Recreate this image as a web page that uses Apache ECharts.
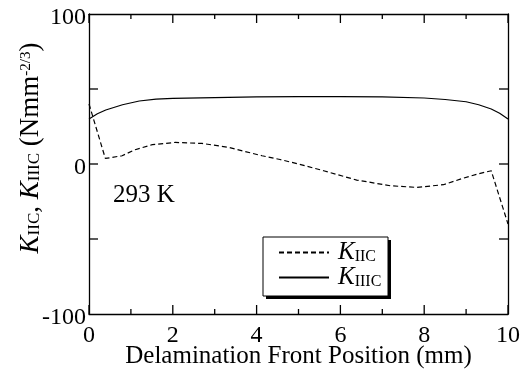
<!DOCTYPE html>
<html>
<head>
<meta charset="utf-8">
<script src="https://cdn.jsdelivr.net/npm/echarts@6/dist/echarts.min.js"></script>
<style>html,body{margin:0;padding:0;background:#fff;}#c{width:522px;height:373px;}</style>
</head>
<body>
<div id="c"></div>
<script>
// Data
var kiiicX = [0, 0.2, 0.4, 0.8, 1.2, 1.6, 2, 3, 4, 5, 6, 7, 8, 8.5, 9, 9.3, 9.6, 9.8, 10];
var kiiicY = [30, 33.5, 36, 39.5, 42, 43.3, 43.8, 44.3, 44.7, 44.9, 44.9, 44.7, 44, 43, 41.5, 39.5, 36.7, 33.8, 30];
var kiicX = [0, 0.39, 0.79, 1.1, 1.51, 2.06, 2.7, 3.33, 4.13, 4.56, 5.0, 5.6, 6.39, 7.19, 7.82, 8.46, 8.94, 9.3, 9.6, 10];
var kiicY = [40, 3.7, 5.5, 9.5, 12.9, 14.4, 13.7, 11.1, 5.5, 3, 0, -4.5, -10.7, -14.5, -15.6, -13.8, -9.4, -6.5, -4.5, -40];
var xTicks = [0, 2, 4, 6, 8, 10];
var xMinorTicks = [1, 3, 5, 7, 9];
var yTicks = [-50, 0, 50];
var yTickLabels = [-100, 0, 100];
var seriesNames = ['KIIC', 'KIIIC'];
var X_MIN = 0, X_MAX = 10, Y_MIN = -100, Y_MAX = 100;

function pairs(xs, ys) { return xs.map(function (x, i) { return [x, ys[i]]; }); }

// tick mark data: [tick value, 0, kind]; kind 0 = major x, 1 = minor x, 2 = y
var tickData = []
  .concat(xTicks.map(function (v) { return [v, 0, 0]; }))
  .concat(xMinorTicks.map(function (v) { return [v, 0, 1]; }))
  .concat(yTicks.map(function (v) { return [5, v, 2]; }));

var FONT = '"Liberation Serif", "DejaVu Serif", serif';
var chart = echarts.init(document.getElementById('c'));
var axisLineStyle = { color: '#000', width: 1.3 };
function rich(size) {
  return {
    k: { fontFamily: FONT, fontStyle: 'italic', fontSize: size, color: '#000', lineHeight: 25 },
    s: { fontFamily: FONT, fontSize: Math.round(size * 0.64), color: '#000', lineHeight: 11, verticalAlign: 'bottom' },
    n: { fontFamily: FONT, fontSize: size, color: '#000', lineHeight: 25 },
    p: { fontFamily: FONT, fontSize: Math.round(size * 0.56), color: '#000', lineHeight: 13, verticalAlign: 'top' }
  };
}

function renderTick(params, api) {
  var xv = api.value(0), yv = api.value(1), kind = api.value(2);
  var st = { stroke: '#000', lineWidth: 1.3, fill: null };
  if (kind === 2) {
    var l = api.coord([X_MIN, yv]), r = api.coord([X_MAX, yv]);
    return { type: 'group', children: [
      { type: 'line', shape: { x1: l[0], y1: l[1], x2: l[0] + 9, y2: l[1] }, style: st },
      { type: 'line', shape: { x1: r[0], y1: r[1], x2: r[0] - 9, y2: r[1] }, style: st }
    ] };
  }
  var len = kind === 0 ? 9 : 5;
  var b = api.coord([xv, Y_MIN]), t = api.coord([xv, Y_MAX]);
  return { type: 'group', children: [
    { type: 'line', shape: { x1: b[0], y1: b[1], x2: b[0], y2: b[1] - len }, style: st },
    { type: 'line', shape: { x1: t[0], y1: t[1], x2: t[0], y2: t[1] + len }, style: st }
  ] };
}

chart.setOption({
  animation: false,
  backgroundColor: '#fff',
  grid: { left: 89, right: 14, top: 14, bottom: 59, containLabel: false, outerBoundsMode: 'none' },
  xAxis: [{
    type: 'value', min: X_MIN, max: X_MAX, interval: 2,
    axisLine: { show: true, onZero: false, lineStyle: axisLineStyle },
    axisTick: { show: false },
    splitLine: { show: false },
    axisLabel: {
      color: '#000', fontFamily: FONT, fontSize: 24, margin: 10,
      formatter: function (v) { return xTicks.indexOf(v) >= 0 ? String(v) : ''; }
    },
    name: 'Delamination Front Position (mm)', nameLocation: 'middle', nameGap: 30, nameMoveOverlap: false,
    nameTextStyle: { color: '#000', fontFamily: FONT, fontSize: 25 }
  }, {
    type: 'value', min: X_MIN, max: X_MAX, interval: 2, position: 'top',
    axisLine: { show: true, onZero: false, lineStyle: axisLineStyle },
    axisTick: { show: false },
    splitLine: { show: false }, axisLabel: { show: false }
  }],
  yAxis: [{
    type: 'value', min: Y_MIN, max: Y_MAX, interval: 50,
    axisLine: { show: true, onZero: false, lineStyle: axisLineStyle },
    axisTick: { show: false },
    splitLine: { show: false },
    axisLabel: {
      color: '#000', fontFamily: FONT, fontSize: 24, margin: 3, verticalAlign: 'top', lineHeight: 8,
      formatter: function (v) { return yTickLabels.indexOf(v) >= 0 ? String(v) : ''; }
    }
  }, {
    type: 'value', min: Y_MIN, max: Y_MAX, interval: 50, position: 'right',
    axisLine: { show: true, onZero: false, lineStyle: axisLineStyle },
    axisTick: { show: false },
    splitLine: { show: false }, axisLabel: { show: false }
  }],
  legend: {
    orient: 'vertical', left: 273, top: 235, z: 10,
    itemWidth: 50, itemHeight: 14, itemGap: 0,
    itemStyle: { opacity: 0 },
    data: seriesNames,
    formatter: function (name) {
      return name === 'KIIC' ? '{k|K}{s|IIC}' : '{k|K}{s|IIIC}';
    },
    textStyle: { rich: rich(25), padding: [0, 0, 0, 4] }
  },
  graphic: [
    { type: 'rect', z: 1, shape: { x: 266, y: 240, width: 125, height: 59 }, style: { fill: '#000' } },
    { type: 'rect', z: 2, shape: { x: 263, y: 237, width: 125, height: 59 }, style: { fill: '#fff', stroke: '#000', lineWidth: 1 } },
    { type: 'text', z: 5, x: 113, y: 195, style: { text: '293 K', fontFamily: FONT, fontSize: 25, fill: '#000', verticalAlign: 'middle', align: 'left' } },
    { type: 'text', z: 5, x: 31, y: 148, rotation: Math.PI / 2,
      style: { text: '{k|K}{s|IIC}{n|, }{k|K}{s|IIIC}{n| (Nmm}{p|-2/3}{n|)}', rich: rich(27), align: 'center', verticalAlign: 'middle' } }
  ],
  series: [{
    name: 'KIIC', type: 'line', data: pairs(kiicX, kiicY), symbol: 'none', showSymbol: false,
    lineStyle: { color: '#000', width: 1.2, type: [5, 3] }, itemStyle: { color: '#000' }
  }, {
    name: 'KIIIC', type: 'line', data: pairs(kiiicX, kiiicY), symbol: 'none', showSymbol: false,
    lineStyle: { color: '#000', width: 1.2, type: 'solid' }, itemStyle: { color: '#000' }
  }, {
    name: 'ticks', type: 'custom', data: tickData, renderItem: renderTick, clip: false,
    silent: true, z: 3, encode: { x: 0, y: 1 }
  }]
});
</script>
</body>
</html>
